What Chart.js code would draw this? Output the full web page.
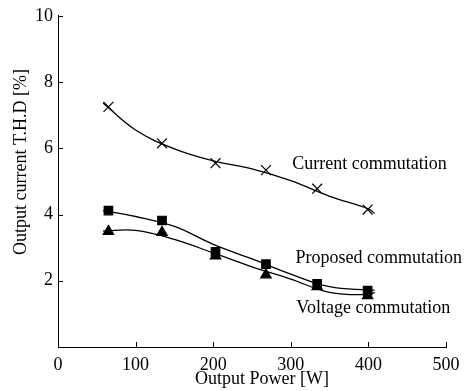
<!DOCTYPE html>
<html lang="en">
<head>
    <meta charset="UTF-8">
    <title>Output current THD</title>
    <script src="https://cdn.jsdelivr.net/npm/chart.js@4.4.1/dist/chart.umd.min.js"></script>
    <style>
        * { margin: 0; padding: 0; box-sizing: border-box; }
        body { background: #fff; }
        .chart-box { width: 468px; height: 391px; }
    </style>
</head>
<body>
    <div class="chart-box">
        <canvas id="thdChart" width="468" height="391"></canvas>
    </div>

    <script>
        // Measured points
        const power = [65, 134, 203, 268, 334, 399];
        const currentThd = [7.25, 6.15, 5.55, 5.34, 4.78, 4.15];
        const proposedThd = [4.12, 3.82, 2.87, 2.5, 1.91, 1.7];
        const voltageThd = [3.49, 3.46, 2.75, 2.18, 1.82, 1.55];

        // Fitted curves
        const curvePower = [58, 100, 150, 200, 250, 300, 350, 400, 408];
        const currentCurve = [7.37, 6.55, 5.98, 5.62, 5.38, 5.02, 4.55, 4.17, 4.03];
        const proposedCurve = [4.12, 3.94, 3.64, 3.1, 2.66, 2.2, 1.82, 1.72, 1.72];
        const voltageCurve = [3.5, 3.52, 3.25, 2.84, 2.42, 2.05, 1.65, 1.58, 1.65];

        const xTicks = [0, 100, 200, 300, 400, 500];
        const yTicks = [2, 4, 6, 8, 10];

        const labels = [
            { text: 'Current commutation', x: 302, y: 5.52 },
            { text: 'Proposed commutation', x: 306, y: 2.69 },
            { text: 'Voltage commutation', x: 307, y: 1.16 }
        ];

        const FONT = '"Liberation Serif", "Times New Roman", serif';

        const toXY = (xs, ys) => xs.map((x, i) => ({ x: x, y: ys[i] }));

        function markers(data, style, radius) {
            return {
                data: data,
                showLine: false,
                pointStyle: style,
                pointRadius: radius,
                pointBackgroundColor: '#000',
                pointBorderColor: '#000',
                pointBorderWidth: 1.2
            };
        }

        function curve(data) {
            return {
                data: data,
                showLine: true,
                borderColor: '#000',
                borderWidth: 1.3,
                pointRadius: 0,
                tension: 0.4
            };
        }

        // inward tick marks, axis titles and text labels
        const extras = {
            id: 'extras',
            afterDatasetsDraw(chart) {
                const ctx = chart.ctx;
                const xs = chart.scales.x;
                const ys = chart.scales.y;
                const area = chart.chartArea;
                ctx.save();
                ctx.strokeStyle = '#000';
                ctx.lineWidth = 1;
                ctx.beginPath();
                xTicks.forEach(v => {
                    const px = Math.round(xs.getPixelForValue(v)) + 0.5;
                    ctx.moveTo(px, area.bottom);
                    ctx.lineTo(px, area.bottom - 5);
                });
                yTicks.forEach(v => {
                    const py = Math.round(ys.getPixelForValue(v)) + 0.5;
                    ctx.moveTo(area.left, py);
                    ctx.lineTo(area.left + 5, py);
                });
                ctx.stroke();

                ctx.fillStyle = '#000';
                ctx.font = '18px ' + FONT;
                ctx.textBaseline = 'middle';
                ctx.textAlign = 'left';
                labels.forEach(l => {
                    ctx.fillText(l.text, xs.getPixelForValue(l.x), ys.getPixelForValue(l.y));
                });

                ctx.textAlign = 'center';
                ctx.fillText('Output Power [W]', 262, 379);
                ctx.translate(21, 162);
                ctx.rotate(-Math.PI / 2);
                ctx.fillText('Output current T.H.D [%]', 0, 0);
                ctx.restore();
            }
        };

        new Chart(document.getElementById('thdChart'), {
            type: 'scatter',
            data: {
                datasets: [
                    curve(toXY(curvePower, currentCurve)),
                    curve(toXY(curvePower, proposedCurve)),
                    curve(toXY(curvePower, voltageCurve)),
                    markers(toXY(power, currentThd), 'crossRot', 7),
                    markers(toXY(power, proposedThd), 'rect', 6),
                    markers(toXY(power, voltageThd), 'triangle', 6)
                ]
            },
            options: {
                responsive: false,
                animation: false,
                layout: { padding: { top: 12, right: 22, left: 0, bottom: 0 } },
                plugins: {
                    legend: { display: false },
                    tooltip: { enabled: false }
                },
                scales: {
                    x: {
                        type: 'linear',
                        min: 0,
                        max: 500,
                        afterBuildTicks: s => { s.ticks = xTicks.map(v => ({ value: v })); },
                        grid: { display: false, drawTicks: false, tickLength: 0 },
                        border: { color: '#000', width: 1 },
                        ticks: { color: '#000', padding: 7, font: { family: FONT, size: 18 } },
                        afterFit: s => { s.height = 44; }
                    },
                    y: {
                        type: 'linear',
                        min: 0,
                        max: 10,
                        afterBuildTicks: s => { s.ticks = yTicks.map(v => ({ value: v })); },
                        grid: { display: false, drawTicks: false, tickLength: 0 },
                        border: { color: '#000', width: 1 },
                        ticks: { color: '#000', padding: 5, font: { family: FONT, size: 18 } },
                        afterFit: s => { s.width = 58; }
                    }
                }
            },
            plugins: [extras]
        });
    </script>
</body>
</html>
